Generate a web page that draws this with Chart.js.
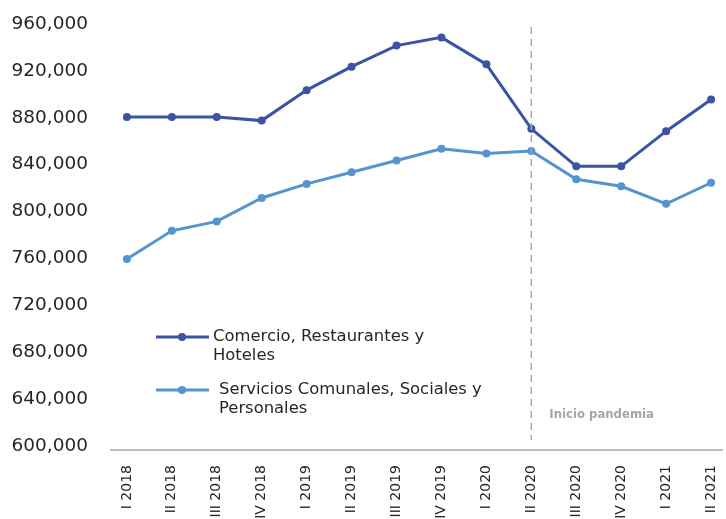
<!DOCTYPE html>
<html>
<head>
<meta charset="utf-8">
<script src="https://cdn.jsdelivr.net/npm/chart.js@4"></script>
<style>
  html, body { margin: 0; padding: 0; background: #fff; }
  #wrap { width: 726px; height: 519px; }
</style>
</head>
<body>
<div id="wrap"><canvas id="line-chart" width="726" height="519"></canvas></div>
<script>
const trimestres = ["I 2018", "II 2018", "III 2018", "IV 2018", "I 2019", "II 2019", "III 2019", "IV 2019",
                    "I 2020", "II 2020", "III 2020", "IV 2020", "I 2021", "II 2021"];
const comercio = [884000, 884000, 884000, 881000, 907000, 927000, 945000, 952000,
                  929000, 874000, 842000, 842000, 872000, 899000];
const servicios = [763000, 787000, 795000, 815000, 827000, 837000, 847000, 857000,
                   853000, 855000, 831000, 825000, 810000, 828000];
const yTicks = [600000, 640000, 680000, 720000, 760000, 800000, 840000, 880000, 920000, 960000];
const nombres = [["Comercio, Restaurantes y", "Hoteles"], ["Servicios Comunales, Sociales y", "Personales"]];
const inicioPandemia = 9; // II 2020

const FONT = "'DejaVu Sans', sans-serif";

const toPoints = arr => arr.map((v, i) => ({ x: i, y: v }));

// vertical dashed marker + note
const pandemiaPlugin = {
  id: 'pandemia',
  afterDatasetsDraw(chart) {
    const { ctx, scales: { x }, chartArea } = chart;
    const px = x.getPixelForValue(inicioPandemia);
    ctx.save();
    ctx.strokeStyle = '#a6a6a6';
    ctx.lineWidth = 1.5;
    ctx.setLineDash([7, 5]);
    ctx.beginPath();
    ctx.moveTo(px, chartArea.top - 1);
    ctx.lineTo(px, chartArea.bottom - 10);
    ctx.stroke();
    ctx.setLineDash([]);
    ctx.fillStyle = '#a6a6a6';
    ctx.font = 'bold 11.7px ' + FONT;
    ctx.textBaseline = 'middle';
    ctx.fillText('Inicio pandemia', px + 18, 415);
    ctx.restore();
  }
};

// legend drawn inside the plot, with wrapped labels
const leyendaPlugin = {
  id: 'leyenda',
  afterDraw(chart) {
    const { ctx } = chart;
    const rows = [
      { y: 337, tx: 213 },
      { y: 390, tx: 219 }
    ];
    ctx.save();
    chart.data.datasets.forEach((ds, i) => {
      const r = rows[i];
      ctx.strokeStyle = ds.borderColor;
      ctx.lineWidth = 3;
      ctx.beginPath();
      ctx.moveTo(156, r.y);
      ctx.lineTo(209, r.y);
      ctx.stroke();
      ctx.fillStyle = ds.borderColor;
      ctx.beginPath();
      ctx.arc(182, r.y, 4, 0, Math.PI * 2);
      ctx.fill();
      ctx.fillStyle = '#262626';
      ctx.font = '16.4px ' + FONT;
      ctx.textBaseline = 'middle';
      nombres[i].forEach((t, k) => ctx.fillText(t, r.tx, r.y + k * 18.5));
    });
    ctx.restore();
  }
};

const ctx = document.getElementById('line-chart');
new Chart(ctx, {
  type: 'line',
  data: {
    datasets: [{
      label: nombres[0].join(' '),
      data: toPoints(comercio),
      borderColor: '#3a53a4',
      backgroundColor: '#3a53a4',
      borderWidth: 3,
      pointRadius: 4,
      pointBackgroundColor: '#3a53a4',
      pointBorderWidth: 0,
      tension: 0
    }, {
      label: nombres[1].join(' '),
      data: toPoints(servicios),
      borderColor: '#5595cf',
      backgroundColor: '#5595cf',
      borderWidth: 3,
      pointRadius: 4,
      pointBackgroundColor: '#5595cf',
      pointBorderWidth: 0,
      tension: 0
    }]
  },
  options: {
    responsive: false,
    animation: false,
    layout: { padding: { top: 28, right: 0, bottom: 0, left: 0 } },
    plugins: {
      legend: { display: false },
      tooltip: { enabled: false }
    },
    scales: {
      x: {
        type: 'linear',
        min: -0.354,
        max: 13.243,
        grid: { display: false, drawTicks: false },
        border: { display: true, color: '#bfbfbf', width: 2 },
        afterFit(scale) {
          scale.height = 69;
          scale.paddingLeft = 0;
          scale.paddingRight = 0;
        },
        afterBuildTicks(scale) {
          scale.ticks = trimestres.map((_, i) => ({ value: i }));
        },
        ticks: {
          autoSkip: false,
          minRotation: 90,
          maxRotation: 90,
          padding: 15,
          color: '#262626',
          font: { family: FONT, size: 14 },
          callback: v => trimestres[v]
        }
      },
      y: {
        min: 600000,
        max: 960000,
        grid: { display: false, drawTicks: false },
        border: { display: false },
        afterFit(scale) {
          scale.width = 111;
          scale.paddingTop = 0;
          scale.paddingBottom = 0;
        },
        afterBuildTicks(scale) {
          scale.ticks = yTicks.map(v => ({ value: v }));
        },
        ticks: {
          padding: 23,
          labelOffset: -4,
          color: '#262626',
          font: { family: FONT, size: 18.5 },
          callback: v => v.toLocaleString('en-US')
        }
      }
    }
  },
  plugins: [pandemiaPlugin, leyendaPlugin]
});
</script>
</body>
</html>
